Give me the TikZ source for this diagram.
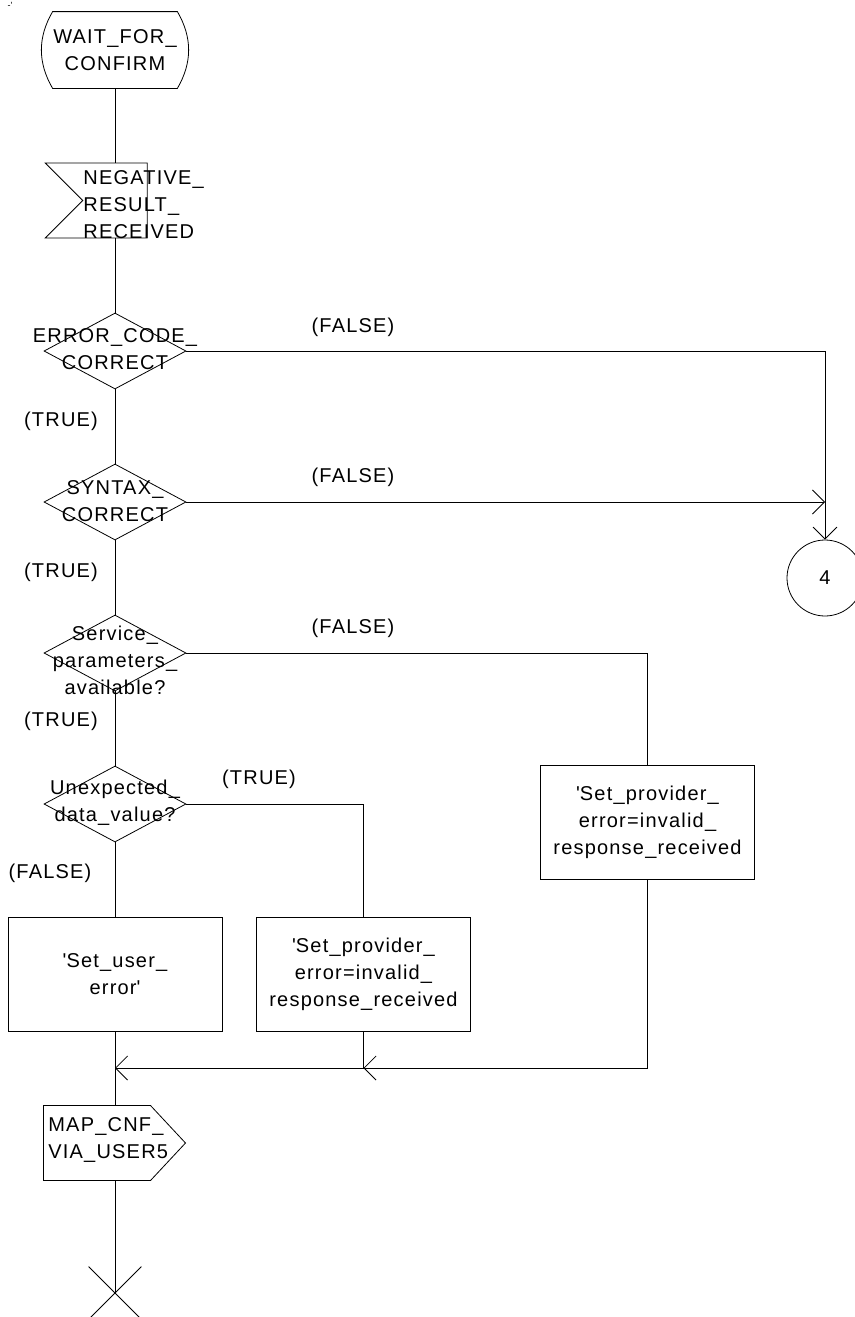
\documentclass[tikz,border=0pt]{standalone}
\usepackage{fontspec}
\setmainfont{Liberation Sans}[LetterSpace=6]
\usetikzlibrary{arrows.meta, shapes.geometric, shapes.misc, shapes.symbols}

\begin{document}
\begin{tikzpicture}[x=1pt, y=-1pt, line width=0.8pt,
    >={Straight Barb[length=12pt, width=24pt]},
    every node/.style={font=\fontsize{20}{27}\selectfont, inner sep=0pt},
    statebox/.style={rectangle, minimum width=124pt, minimum height=76pt, align=center},
    inbox/.style={draw, signal, signal from=west, signal to=nowhere,
      minimum width=102pt, minimum height=75pt},
    outbox/.style={draw, signal, signal to=east, signal from=nowhere,
      signal pointer angle=94, minimum width=142pt, minimum height=75pt},
    decision/.style={draw, diamond, minimum width=142pt, minimum height=76pt},
    taskbox/.style={draw, rectangle, minimum width=214pt, minimum height=114pt, align=center},
    connector/.style={draw, circle, minimum size=76pt},
    txt/.style={align=center}]
  \useasboundingbox (0,0) rectangle (854,1317);
  \node (mark) at (10,5) {\fontsize{9}{9}\selectfont -\textquotesingle};

  % state and input
  \node[statebox] (wait) at (115,50) {WAIT\_FOR\_\\CONFIRM};
  \draw (wait.north west) -- (wait.north east) to[bend left=30] (wait.south east)
    -- (wait.south west) to[bend left=30] cycle;
  \node[inbox] (neg) at (115,200.5) {};
  \node[txt, align=left, anchor=west] (negtxt) at (83,205) {NEGATIVE\_\\RESULT\_\\RECEIVED};

  % decisions
  \node[decision] (errcode) at (115,351) {};
  \node[txt] (errcodetxt) at (115,349) {ERROR\_CODE\_\\CORRECT};
  \node[decision] (syntax) at (115,502) {};
  \node[txt] (syntaxtxt) at (115,501) {SYNTAX\_\\CORRECT};
  \node[decision] (servpar) at (115,653) {};
  \node[txt] (servpartxt) at (115,660) {Service\_\\parameters\_\\available?};
  \node[decision] (unexp) at (115,804) {};
  \node[txt] (unexptxt) at (115,803) {Unexpected\_\\data\_value?};

  \node[connector] (con4) at (825,578) {4};

  % tasks
  \node[taskbox] (provright) at (647.5,822.5)
    {\textquotesingle Set\_provider\_\\error=invalid\_\\response\_received};
  \node[taskbox] (usererr) at (115,974) {\textquotesingle Set\_user\_\\error\textquotesingle};
  \node[taskbox] (provmid) at (363.5,974)
    {\textquotesingle Set\_provider\_\\error=invalid\_\\response\_received};

  % output and stop
  \node[outbox] (mapcnf) at (97,1143) {};
  \node[txt, align=left, anchor=west] (mapcnftxt) at (48,1140) {MAP\_CNF\_\\VIA\_USER5};
  \node[draw, cross out, minimum size=52pt] (stop) at (115,1293) {};

  % branch labels
  \foreach \n/\x/\y/\t in {f1/353/327/FALSE, t1/61/421/TRUE, f2/353/477/FALSE,
                           t2/61/572/TRUE, f3/353/628/FALSE, t3/61/721/TRUE,
                           t4/259/779/TRUE, f4/50/873/FALSE}
    \node (\n) at (\x,\y) {(\t)};

  \coordinate (joinmid) at (363.5,1068);
  \coordinate (joinmain) at (115,1068);

  \draw (wait.south) -- (neg.north);
  \draw (neg.south) -- (errcode.north);
  \draw (errcode.south) -- (syntax.north);
  \draw (syntax.south) -- (servpar.north);
  \draw (servpar.south) -- (unexp.north);
  \draw (unexp.south) -- (usererr.north);
  \draw[->] (errcode.east) -| (con4.north);
  \draw[->] (syntax.east) -- (syntax.east -| con4.north);
  \draw (servpar.east) -| (provright.north);
  \draw (unexp.east) -| (provmid.north);
  \draw[->] (provright.south) |- (joinmid);
  \draw (provmid.south) -- (joinmid);
  \draw[->] (joinmid) -- (joinmain);
  \draw (usererr.south) -- (usererr.south |- mapcnf.north);
  \draw (stop.center |- mapcnf.south) -- (stop.center);
\end{tikzpicture}
\end{document}
